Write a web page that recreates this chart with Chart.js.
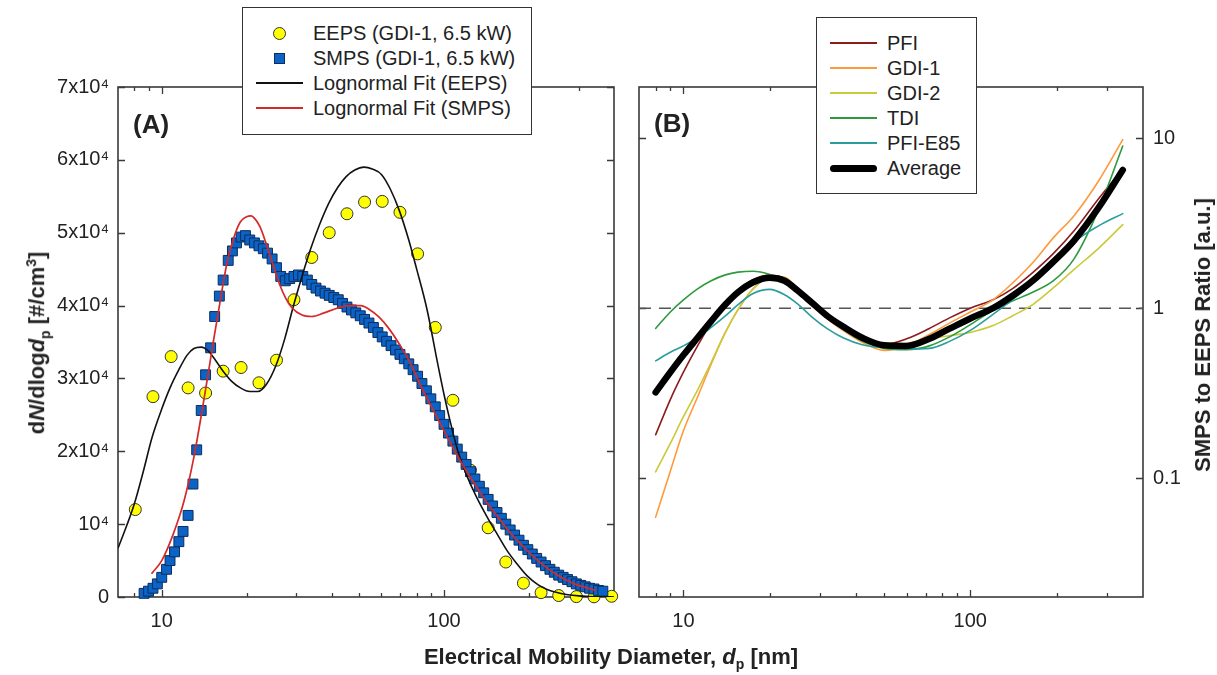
<!DOCTYPE html>
<html><head><meta charset="utf-8">
<script src="https://cdn.jsdelivr.net/npm/chart.js@4.4.0/dist/chart.umd.min.js"></script>
<style>
html,body{margin:0;padding:0;background:#fff;}
body{width:1217px;height:675px;position:relative;overflow:hidden;font-family:"Liberation Sans",Arial,sans-serif;color:#222;}
canvas{position:absolute;top:0;}
#cA{left:0;}
#cB{left:625px;}
.legend{position:absolute;box-sizing:border-box;background:#fff;border:1.5px solid #333;z-index:5;}
.row{position:absolute;left:0;right:0;height:24px;}
.tx{position:absolute;left:70px;top:0;line-height:24px;font-size:20px;white-space:nowrap;color:#222;}
.ln{position:absolute;left:13px;width:47px;top:11px;height:2px;}
.title{position:absolute;font-weight:bold;white-space:nowrap;color:#222;z-index:4;}
.title sub,.title sup{font-size:14px;}
.panel{position:absolute;font-weight:bold;font-size:26px;color:#222;z-index:4;line-height:30px;}
</style>
</head>
<body>
<canvas id="cA" width="625" height="675"></canvas>
<canvas id="cB" width="592" height="675"></canvas>

<div class="panel" style="left:133px;top:109px;">(A)</div>
<div class="panel" style="left:654px;top:108px;">(B)</div>

<div class="legend" style="left:242px;top:7px;width:290px;height:128px;">
  <div class="row" style="top:13px;"><span style="position:absolute;left:30px;top:6px;width:11px;height:11px;border-radius:50%;background:#ffff00;border:1px solid #333;"></span><span class="tx">EEPS (GDI-1, 6.5 kW)</span></div>
  <div class="row" style="top:38px;"><span style="position:absolute;left:31px;top:7px;width:9px;height:9px;background:#0b63c6;border:1px solid #0c2d5e;"></span><span class="tx">SMPS (GDI-1, 6.5 kW)</span></div>
  <div class="row" style="top:63px;"><span class="ln" style="background:#111;"></span><span class="tx">Lognormal Fit (EEPS)</span></div>
  <div class="row" style="top:88px;"><span class="ln" style="background:#d42a2a;"></span><span class="tx">Lognormal Fit (SMPS)</span></div>
</div>

<div class="legend" style="left:816px;top:17px;width:161px;height:177px;">
  <div class="row" style="top:13px;"><span class="ln" style="background:#8b1c1c;"></span><span class="tx" style="left:70px;">PFI</span></div>
  <div class="row" style="top:38px;"><span class="ln" style="background:#ff9a3c;"></span><span class="tx" style="left:70px;">GDI-1</span></div>
  <div class="row" style="top:63px;"><span class="ln" style="background:#c9c93a;"></span><span class="tx" style="left:70px;">GDI-2</span></div>
  <div class="row" style="top:88px;"><span class="ln" style="background:#2e9a3e;"></span><span class="tx" style="left:70px;">TDI</span></div>
  <div class="row" style="top:113px;"><span class="ln" style="background:#2a9d9d;"></span><span class="tx" style="left:70px;">PFI-E85</span></div>
  <div class="row" style="top:138px;"><span class="ln" style="background:#000;height:7px;top:9px;border-radius:4px;"></span><span class="tx" style="left:70px;">Average</span></div>
</div>

<div class="title" style="left:38px;top:343px;font-size:22px;transform:translate(-50%,-50%) rotate(-90deg);">d<i>N</i>/dlog<i>d</i><sub>p</sub> [#/cm<sup>3</sup>]</div>
<div class="title" style="left:611px;top:658px;font-size:22px;transform:translate(-50%,-50%);">Electrical Mobility Diameter, <i>d</i><sub>p</sub> [nm]</div>
<div class="title" style="left:1203px;top:335px;font-size:22px;transform:translate(-50%,-50%) rotate(-90deg);">SMPS to EEPS Ratio [a.u.]</div>

<script>
// ---------- Panel A data ----------
const eepsDiam = [8.06, 9.31, 10.8, 12.4, 14.3, 16.5, 19.1, 22.1, 25.5, 29.4, 34.0, 39.2, 45.3, 52.3, 60.4, 69.8, 80.6, 93.1, 107.5, 124.1, 143.3, 165.5, 191.1, 220.7, 254.8, 294.3, 339.8, 392.4];
const eepsConc = [12000, 27500, 33000, 28700, 28000, 31000, 31500, 29400, 32500, 40800, 46600, 50000, 52600, 54200, 54300, 52800, 47100, 37000, 27000, 17400, 9500, 4800, 1900, 600, 200, 50, 20, 100];

const smpsDiam = [8.66, 8.98, 9.31, 9.65, 10.0, 10.4, 10.7, 11.1, 11.5, 11.9,
  12.4, 12.9, 13.3, 13.8, 14.3, 14.9, 15.4, 16.0, 16.5, 17.2,
  17.8, 18.4, 19.1, 19.8, 20.5, 21.3, 22.1, 22.9, 23.7, 24.6,
  25.5, 26.4, 27.4, 28.4, 29.4, 30.5, 31.6, 32.8, 34.0, 35.2,
  36.5, 37.9, 39.2, 40.7, 42.2, 43.7, 45.3, 47.0, 48.7, 50.5,
  52.3, 54.2, 56.2, 58.3, 60.4, 62.6, 64.9, 67.3, 69.8, 72.3,
  75.0, 77.7, 80.6, 83.5, 86.6, 89.8, 93.1, 96.5, 100.0, 103.7,
  107.5, 111.4, 115.5, 119.7, 124.1, 128.6, 133.4, 138.2, 143.3, 148.6,
  154.0, 159.6, 165.5, 171.5, 177.8, 184.3, 191.1, 198.1, 205.4, 212.9,
  220.7, 228.8, 237.2, 245.8, 254.8, 264.2, 273.8, 283.9, 294.3, 305.1,
  316.2, 327.8, 339.8, 352.3, 365.2];
const smpsConc = [500, 800, 1200, 1800, 2700, 3800, 5000, 6200, 7600, 9000,
  11200, 15500, 20200, 25600, 30500, 34200, 38500, 41300, 43500, 46200,
  47500, 48600, 49400, 49600, 49000, 48600, 48200, 47800, 47200, 46400,
  45200, 44000, 43400, 43700, 44000, 44200, 44000, 43500, 42900, 42400,
  42000, 41700, 41400, 41100, 40800, 40300, 39800, 39400, 39000, 38600,
  38100, 37600, 37000, 36300, 35700, 35100, 34500, 33900, 33300, 32700,
  32000, 31200, 30300, 29300, 28300, 27200, 26100, 24900, 23700, 22500,
  21400, 20300, 19200, 18200, 17200, 16200, 15200, 14300, 13400, 12500,
  11600, 10800, 10000, 9200, 8500, 7800, 7100, 6500, 5900, 5300,
  4800, 4300, 3800, 3400, 3000, 2700, 2400, 2100, 1800, 1600,
  1400, 1200, 1100, 900, 800];

const eepsFitDiam = [7.0, 7.5, 8.0, 8.6, 9.24, 10.0, 10.7, 11.5, 12.3, 13.0, 13.8, 14.6, 15.5, 16.5, 17.7, 19.0, 20.5, 21.9, 23.5, 25.4, 27.3, 29.3, 31.5, 33.7, 36.3, 39.0, 42.0, 45.0, 48.3, 52.0, 56.0, 60.0, 64.5, 69.5, 75.0, 80.0, 87.0, 95.0, 100, 105, 112, 120, 130, 142, 155, 167, 180, 197, 215, 233, 255, 275, 300, 330, 360, 400];
const eepsFitConc = [6700, 9700, 12800, 17200, 21900, 25800, 28700, 31200, 33200, 34100, 34300, 33800, 32500, 31000, 29600, 28700, 28200, 28200, 29200, 31800, 35500, 40000, 44200, 47800, 51200, 54000, 56200, 57700, 58600, 59000, 58700, 58000, 56000, 53000, 49000, 45000, 39500, 32000, 27800, 24200, 20000, 16800, 13800, 11000, 8500, 6400, 4700, 2900, 1700, 1000, 550, 300, 150, 70, 30, 10];

const smpsFitDiam = [9.2, 10.0, 11.0, 12.0, 13.0, 13.9, 14.6, 15.3, 15.9, 17.0, 18.0, 19.0, 20.0, 20.7, 21.5, 22.3, 23.3, 24.5, 26.1, 27.5, 28.9, 31.4, 34.0, 37.6, 41.5, 45.9, 50.7, 54.2, 58.9, 63.9, 69.5, 75.3, 83.4, 92, 100, 110, 120, 130, 141.6, 155, 170, 190, 215, 250, 290, 345];
const smpsFitConc = [3200, 5000, 8700, 13200, 19200, 25600, 30600, 35500, 39300, 45700, 49300, 51500, 52200, 52300, 51800, 50800, 48800, 46200, 43000, 41000, 39700, 38700, 38500, 39000, 39600, 40000, 40000, 39500, 38400, 36800, 34700, 32400, 28700, 25500, 22800, 19800, 17300, 15200, 13000, 11000, 9000, 7000, 5000, 3100, 1800, 900];

const xTickValues = [8, 9, 10, 20, 30, 40, 50, 60, 70, 80, 90, 100, 200, 300];
const xMajorTicks = [10, 100];
const xTickLabels = ['', '', '10', '', '', '', '', '', '', '', '', '100', '', ''];
const yTickValuesA = [0, 10000, 20000, 30000, 40000, 50000, 60000, 70000];
const yTickLabelsA = ['0', '10\u2074', '2x10\u2074', '3x10\u2074', '4x10\u2074', '5x10\u2074', '6x10\u2074', '7x10\u2074'];

// ---------- Panel B data ----------
const ratioDiam = [8, 9, 10, 11.2, 12.5, 14, 15.5, 17.5, 20, 22.5, 25, 28, 32, 36, 42, 50, 60, 72, 85, 100, 120, 140, 165, 195, 230, 280, 340];
const ratioPFI     = [0.18, 0.29, 0.42, 0.60, 0.82, 1.05, 1.26, 1.47, 1.56, 1.50, 1.30, 1.10, 0.90, 0.78, 0.67, 0.61, 0.66, 0.76, 0.88, 1.00, 1.12, 1.30, 1.62, 2.10, 2.85, 4.40, 6.60];
const ratioGDI1    = [0.059, 0.11, 0.19, 0.30, 0.47, 0.72, 0.98, 1.30, 1.52, 1.52, 1.30, 1.08, 0.86, 0.74, 0.63, 0.565, 0.60, 0.70, 0.82, 0.95, 1.12, 1.40, 1.85, 2.60, 3.50, 5.60, 9.80];
const ratioGDI2    = [0.109, 0.16, 0.23, 0.33, 0.48, 0.72, 0.98, 1.30, 1.50, 1.50, 1.30, 1.08, 0.87, 0.75, 0.65, 0.60, 0.62, 0.66, 0.69, 0.72, 0.79, 0.90, 1.05, 1.32, 1.69, 2.25, 3.10];
const ratioTDI     = [0.76, 0.95, 1.12, 1.30, 1.45, 1.57, 1.63, 1.65, 1.58, 1.45, 1.27, 1.06, 0.87, 0.75, 0.64, 0.58, 0.57, 0.60, 0.68, 0.80, 0.97, 1.10, 1.24, 1.45, 1.95, 3.80, 9.00];
const ratioPFIE85  = [0.49, 0.55, 0.60, 0.67, 0.77, 0.90, 1.05, 1.22, 1.29, 1.20, 1.06, 0.89, 0.75, 0.67, 0.61, 0.585, 0.575, 0.58, 0.64, 0.74, 0.92, 1.12, 1.40, 1.82, 2.45, 3.05, 3.60];
const ratioAverage = [0.32, 0.42, 0.53, 0.67, 0.84, 1.05, 1.24, 1.42, 1.51, 1.45, 1.27, 1.08, 0.89, 0.78, 0.67, 0.605, 0.60, 0.66, 0.76, 0.87, 1.00, 1.18, 1.45, 1.88, 2.50, 3.90, 6.50];
const refLineX = [7, 400];
const refLineY = [1, 1];
const yTickValuesB = [0.1, 1, 10];
const yTickLabelsB = ['0.1', '1', '10'];

// ---------- helpers ----------
const FONT = '"Liberation Sans", Arial, sans-serif';
Chart.defaults.font.family = FONT;
Chart.defaults.font.size = 20;
Chart.defaults.color = '#222';

function pts(xs, ys) { return xs.map((x, i) => ({x: x, y: ys[i]})); }

const frameTicks = {
  id: 'frameTicks',
  beforeDatasetsDraw(chart) {
    const ctx = chart.ctx, a = chart.chartArea;
    const xs = chart.scales.x, ys = chart.scales.y;
    ctx.save();
    ctx.strokeStyle = '#3a3a3a';
    ctx.lineWidth = 1.6;
    ctx.strokeRect(a.left, a.top, a.right - a.left, a.bottom - a.top);
    ctx.lineWidth = 1.3;
    ctx.beginPath();
    xs.ticks.forEach(t => {
      const px = Math.round(xs.getPixelForValue(t.value)) + 0.5;
      const L = xMajorTicks.includes(t.value) ? 7 : 4;
      ctx.moveTo(px, a.bottom); ctx.lineTo(px, a.bottom - L);
      ctx.moveTo(px, a.top); ctx.lineTo(px, a.top + L);
    });
    ys.ticks.forEach(t => {
      const py = Math.round(ys.getPixelForValue(t.value)) + 0.5;
      ctx.moveTo(a.left, py); ctx.lineTo(a.left + 7, py);
      ctx.moveTo(a.right, py); ctx.lineTo(a.right - 7, py);
    });
    ctx.stroke();
    ctx.restore();
  }
};

function xScale() {
  return {
    type: 'logarithmic', position: 'bottom', min: 7, max: 400,
    grid: {display: false, drawTicks: false}, border: {display: false},
    afterBuildTicks: s => { s.ticks = xTickValues.map(v => ({value: v})); },
    ticks: {autoSkip: false, maxRotation: 0, minRotation: 0, padding: 12, color: '#222',
      font: {size: 20, family: FONT},
      callback: (v) => { const i = xTickValues.indexOf(v); return i >= 0 ? xTickLabels[i] : ''; }},
    afterFit: s => { s.height = 78; }
  };
}

// ---------- Chart A ----------
new Chart(document.getElementById('cA'), {
  type: 'line',
  data: {datasets: [
    {label: 'Lognormal Fit (SMPS)', data: pts(smpsFitDiam, smpsFitConc), borderColor: '#d42a2a', borderWidth: 1.7,
      pointRadius: 0, cubicInterpolationMode: 'monotone', fill: false, order: 0},
    {label: 'Lognormal Fit (EEPS)', data: pts(eepsFitDiam, eepsFitConc), borderColor: '#111', borderWidth: 1.6,
      pointRadius: 0, cubicInterpolationMode: 'monotone', fill: false, order: 1},
    {label: 'SMPS (GDI-1, 6.5 kW)', data: pts(smpsDiam, smpsConc), showLine: false, pointStyle: 'rect', pointRadius: 7,
      backgroundColor: '#0b63c6', borderColor: '#0c2d5e', borderWidth: 1, order: 2, clip: false},
    {label: 'EEPS (GDI-1, 6.5 kW)', data: pts(eepsDiam, eepsConc), showLine: false, pointStyle: 'circle', pointRadius: 6,
      backgroundColor: '#ffff00', borderColor: '#333', borderWidth: 1, order: 3, clip: false}
  ]},
  options: {
    responsive: false, animation: false, devicePixelRatio: 1,
    layout: {padding: {top: 87, right: 11, left: 0, bottom: 0}},
    plugins: {legend: {display: false}, tooltip: {enabled: false}},
    scales: {
      x: xScale(),
      y: {type: 'linear', min: 0, max: 70000,
        grid: {display: false, drawTicks: false}, border: {display: false},
        afterBuildTicks: s => { s.ticks = yTickValuesA.map(v => ({value: v})); },
        ticks: {padding: 9, color: '#222', font: {size: 20, family: FONT},
          callback: (v) => { const i = yTickValuesA.indexOf(v); return i >= 0 ? yTickLabelsA[i] : ''; }},
        afterFit: s => { s.width = 118; }}
    }
  },
  plugins: [frameTicks]
});

// ---------- Chart B ----------
const lineDs = (label, ys, color, order, w) => ({label: label, data: pts(ratioDiam, ys), borderColor: color,
  borderWidth: w || 1.6, pointRadius: 0, cubicInterpolationMode: 'monotone', fill: false, order: order,
  borderCapStyle: 'round', borderJoinStyle: 'round'});

new Chart(document.getElementById('cB'), {
  type: 'line',
  data: {datasets: [
    lineDs('Average', ratioAverage, '#000', 0, 6.5),
    lineDs('PFI-E85', ratioPFIE85, '#2a9d9d', 1),
    lineDs('TDI', ratioTDI, '#2e9a3e', 2),
    lineDs('GDI-2', ratioGDI2, '#c9c93a', 3),
    lineDs('GDI-1', ratioGDI1, '#ff9a3c', 4),
    lineDs('PFI', ratioPFI, '#8b1c1c', 5),
    {label: 'ratio = 1', data: pts(refLineX, refLineY), borderColor: '#555', borderWidth: 1.5, borderDash: [12, 8],
      pointRadius: 0, fill: false, order: 10}
  ]},
  options: {
    responsive: false, animation: false, devicePixelRatio: 1,
    layout: {padding: {top: 87, right: 0, left: 14, bottom: 0}},
    plugins: {legend: {display: false}, tooltip: {enabled: false}},
    scales: {
      x: xScale(),
      y: {type: 'logarithmic', position: 'right', min: 0.02, max: 20,
        grid: {display: false, drawTicks: false}, border: {display: false},
        afterBuildTicks: s => { s.ticks = yTickValuesB.map(v => ({value: v})); },
        ticks: {padding: 10, color: '#222', font: {size: 20, family: FONT},
          callback: (v) => { const i = yTickValuesB.indexOf(v); return i >= 0 ? yTickLabelsB[i] : ''; }},
        afterFit: s => { s.width = 74; }}
    }
  },
  plugins: [frameTicks]
});
</script>
</body></html>
